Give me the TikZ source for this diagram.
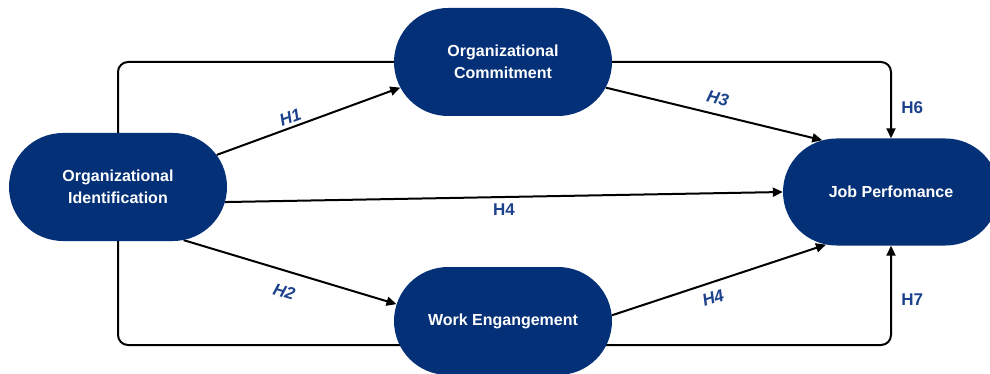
\documentclass[tikz,border=0pt]{standalone}
\usepackage{fontspec}
\setmainfont{Liberation Sans}
\usetikzlibrary{shapes.misc,arrows.meta,backgrounds}
\definecolor{navy}{RGB}{4,48,120}
\definecolor{hlabel}{RGB}{28,66,140}
\begin{document}
\begin{tikzpicture}[x=1pt,y=-1pt,
  construct/.style={rounded rectangle, fill=navy, text=white,
    font=\fontsize{16}{22}\selectfont\bfseries, align=center,
    minimum width=218pt, minimum height=108pt, inner sep=0pt},
  link/.style={line width=2pt, black},
  arrowlink/.style={link, -{Triangle[length=10pt,width=9pt]}},
  hyp/.style={text=hlabel, font=\fontsize{17}{18}\selectfont\bfseries},
  hypit/.style={text=hlabel, font=\fontsize{17}{18}\selectfont\bfseries\itshape}
]
\useasboundingbox (0,0) rectangle (990,374);

% constructs
\node[construct] (oi) at (118,187) {Organizational\\Identification};
\node[construct] (oc) at (503,62) {Organizational\\Commitment};
\node[construct] (we) at (503,321) {Work Engangement};
\node[construct, minimum width=216pt, minimum height=107pt] (jp) at (891,192) {Job Perfomance};

% paths
\begin{scope}[on background layer]
  \draw[link, rounded corners=10pt] (oi.north) |- (oc.center);
  \draw[arrowlink, rounded corners=10pt] (oc.center) -| node[hyp, pos=0.8, right=6pt] {H6} (jp.north);
  \draw[link, rounded corners=10pt] (oi.south) |- ([yshift=-24pt]we.center);
  \draw[arrowlink, rounded corners=10pt] ([yshift=-24pt]we.center) -| node[hyp, pos=0.73, right=6pt] {H7} (jp.south);

  \draw[arrowlink] (oi.18) -- node[hypit, sloped, above, pos=0.42] {H1} (oc.194);
  \draw[arrowlink] (oc.346) -- node[hypit, sloped, above=6pt] {H3} (jp.143);
  \draw[arrowlink] (oi.352) -- node[hyp, below=2pt] {H4} (jp.180);
  \draw[arrowlink] (oi.321) -- node[hypit, sloped, below=10pt] {H2} (we.171);
  \draw[arrowlink] (we.3) -- node[hypit, sloped, below=5pt, pos=0.45] {H4} (jp.219);
\end{scope}
\end{tikzpicture}
\end{document}
